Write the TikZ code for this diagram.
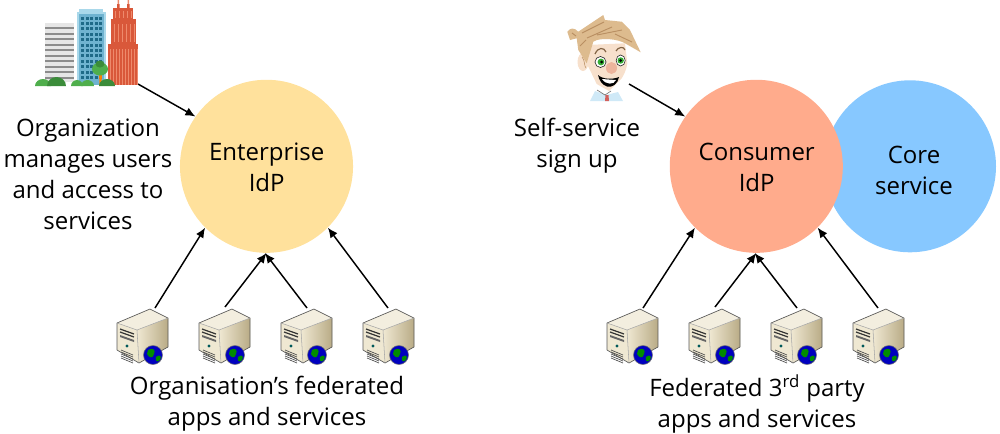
\documentclass[tikz,border=0pt]{standalone}
\usepackage{fontspec}
\setmainfont{Open Sans}
\usetikzlibrary{arrows.meta,shadings}
\definecolor{entc}{HTML}{FFE19C}
\definecolor{conc}{HTML}{FFAB8C}
\definecolor{corec}{HTML}{87C8FF}
\definecolor{srvL}{HTML}{EFE8D2}
\definecolor{srvR}{HTML}{B9AB86}
\definecolor{srvT}{HTML}{F3EEDF}
\definecolor{bgrey}{HTML}{E6E6E6}
\definecolor{bgreyd}{HTML}{8C8C8C}
\definecolor{bblueL}{HTML}{A9D8EA}
\definecolor{bblue}{HTML}{6FB3D0}
\definecolor{bblued}{HTML}{1F6A88}
\definecolor{bred}{HTML}{D9583A}
\definecolor{bredL}{HTML}{EE8A6C}
\definecolor{bgreen}{HTML}{4FAE4C}
\definecolor{bgreend}{HTML}{3B8C3A}
\definecolor{hairc}{HTML}{DDBB8E}
\definecolor{haird}{HTML}{B98F62}
\definecolor{skin}{HTML}{F7E0CC}
\definecolor{nosec}{HTML}{EDB49C}
\definecolor{shirt}{HTML}{CFE9F7}
\definecolor{tiec}{HTML}{D2605C}
\tikzset{
  x=0.75pt,y=-0.75pt,
  idp/.style={circle,minimum size=129.8pt,inner sep=0pt,align=center},
  lbl/.style={align=center,font=\fontsize{18}{23.25}\selectfont,text=black,inner sep=0pt},
  arr/.style={-{Latex[length=7.5pt,width=6.5pt]},line width=1.1pt,black},
  pics/server/.style={code={
    \fill[srvL] (-25,-12) -- (8,-26) -- (26,-17) -- (26,12) -- (-3,28) -- (-25,15) -- cycle;
    \shade[left color=srvL,right color=srvR] (-5,-5) -- (26,-17) -- (26,12) -- (-3,28) -- cycle;
    \fill[srvT] (-25,-12) -- (8,-26) -- (26,-17) -- (-5,-5) -- cycle;
    \draw[black!65,line width=.5pt,line join=round] (-25,-12) -- (8,-26) -- (26,-17) -- (26,12) -- (-3,28) -- (-25,15) -- cycle;
    \draw[black!35,line width=.4pt] (-25,-12) -- (-5,-5) -- (26,-17) (-5,-5) -- (-3,28);
    \draw[black!80,line width=.9pt] (-22,-6) -- (-8,-1) (-22,-3) -- (-8,2);
    \fill[black!60] (-22,0) -- (-8,5) -- (-8,7) -- (-22,2) -- cycle;
    \fill[teal!70!black] (-15,11) circle (1.6);
    \foreach \k in {0,2,4,6,8} \draw[black!70,line width=.5pt] (-21,15+\k) -- (-9,20+\k);
    \fill[blue!75!black] (11,20) circle (9.5);
    \fill[green!55!black] (6,15) .. controls (11,12) and (14,15) .. (12,19) .. controls (11,24) and (7,23) .. (5,19) -- cycle;
    \fill[green!55!black] (14,22) .. controls (18,19) and (20,21) .. (18,25) .. controls (15,28) and (13,26) .. (14,22) -- cycle;
    \draw[black!55,line width=.4pt] (11,20) circle (9.5);
  }}
}
\begin{document}
\begin{tikzpicture}
\useasboundingbox (0,0) rectangle (1000,433);
% circles
\node[idp,fill=corec,minimum size=129pt] (core) at (910,166.3) {};
\node[idp,fill=conc] (con) at (756.3,166.3) {};
\node[idp,fill=entc] (ent) at (266.5,166.3) {};
% circle labels
\node[lbl] (entl) at (266.7,167) {Enterprise\\IdP};
\node[lbl] (conl) at (756.7,167) {Consumer\\IdP};
\node[lbl] (corel) at (914,170.5) {Core\\service};
\node[lbl] (orgl) at (88,174.5) {Organization\\manages users\\and access to\\services};
\node[lbl] (ssl) at (577,146) {Self-service\\sign up};
\node[lbl] (fedl) at (267,404) {Organisation’s federated\\apps and services};
\node[lbl] (fed2) at (757,404) {Federated 3\textsuperscript{rd} party\\apps and services};
% servers
\foreach \n/\x in {a/142,b/224,c/306,d/388,e/632,f/714,g/796,h/878}
  \pic (srv\n) at (\x,335) {server};
% connector starts
\coordinate (sa) at (155,308);
\coordinate (sb) at (225,307);
\coordinate (sc) at (307,308);
\coordinate (sd) at (388,308);
\coordinate (se) at (643,308);
\coordinate (sf) at (715,307);
\coordinate (sg) at (797,308);
\coordinate (sh) at (878,308);
\coordinate (bld) at (138,84);
\coordinate (face) at (629,84);
\draw[arr] (sa) -- (ent.225);
\draw[arr] (sb) -- (ent.270.5);
\draw[arr] (sc) -- (ent.269);
\draw[arr] (sd) -- (ent.315);
\draw[arr] (se) -- (con.225);
\draw[arr] (sf) -- (con.270.5);
\draw[arr] (sg) -- (con.269);
\draw[arr] (sh) -- (con.315);
\draw[arr] (bld) -- (ent.145.4);
\draw[arr] (face) -- (con.145.4);
% buildings
\fill[bgrey] (45,23) rectangle (74,82);
\foreach \y in {27,32.5,38,43.5,49,54.5,60,65.5,71,76.5} \fill[bgreyd] (45,\y) rectangle (74,\y+2);
\fill[bblueL] (79,9) rectangle (103,14);
\fill[bblueL] (77,12) rectangle (106,85);
\fill[bblue] (79,14) rectangle (104,85);
\foreach \i in {0,...,4} \foreach \j in {0,...,11}
  \fill[bblued] (81+\i*4.6,16.5+\j*5.4) rectangle +(3,3);
\fill[bred] (108,44) rectangle (138,85);
\fill[bred] (111,19) rectangle (136,44);
\fill[bred] (113,8) rectangle (133,19);
\fill[bred] (117,4) rectangle (119.5,8) (127,4) rectangle (129.5,8);
\fill[bredL] (117.5,0) rectangle (119,4) (127.5,0) rectangle (129,4);
\foreach \x in {110,113,...,137} \draw[bredL,line width=.5pt] (\x,49) -- (\x,85);
\foreach \x in {114,118,...,134} \draw[bredL,line width=.5pt] (\x,24) -- (\x,42);
\foreach \x in {115,119,...,131} \draw[bredL,line width=.5pt] (\x,11) -- (\x,18);
\fill[orange] (99,72) -- (102,72) -- (101.5,85) -- (99.5,85) -- cycle;
\fill[bgreen] (100,69) ellipse (8 and 6.5);
\fill[bgreend] (100,64) ellipse (4.5 and 3.5);
\fill[bgreen] (35,86) arc[start angle=180,end angle=360,x radius=8,y radius=7] -- cycle;
\fill[bgreend] (47,86) arc[start angle=180,end angle=360,x radius=9.5,y radius=9] -- cycle;
\fill[bgreen] (71,86) arc[start angle=180,end angle=360,x radius=6,y radius=6] -- cycle;
\fill[bgreen] (81,86) arc[start angle=180,end angle=360,x radius=6.5,y radius=6] -- cycle;
\fill[bgreend] (99,86) arc[start angle=180,end angle=360,x radius=8,y radius=7] -- cycle;
% face
\fill[shirt] (590,101) -- (595,91) -- (606,95) -- (618,92) -- (623,101) -- cycle;
\fill[tiec] (605.5,95) -- (608.5,95) -- (609,101) -- (605,101) -- cycle;
\draw[black!55,line width=.5pt] (597,90) -- (605,95) -- (611,91);
\fill[skin] (583,62) ellipse (5.5 and 9);
\draw[haird,line width=.4pt] (582,57) .. controls (585,60) and (584,66) .. (586,68);
\fill[skin] (586.7,45) -- (625,43.3) -- (627.3,63.3) .. controls (626,72) and (623,76) .. (621.7,78.3) -- (609,91) -- (596.7,84) -- (586.7,63.3) -- cycle;
\fill[hairc] (567.3,31.7) .. controls (570,28) and (574,27) .. (578.3,31.7) -- (603.3,15) -- (605,20) -- (621.7,21.7) -- (630,30) -- (640.7,52.3) -- (625,43.3) .. controls (618,39) and (600,37) .. (593.3,41.7) -- (586.7,63.3) -- (578.3,50) -- (576.7,38.3) -- (570,40) -- cycle;
\draw[haird,line width=.7pt] (582,33) -- (604,22) (587,38) -- (612,27) (597,35) -- (622,30) (615,34) -- (632,42) (572,33) -- (576,36) (580,46) -- (586,40);
\draw[haird!70!black,line width=.9pt] (595,54) .. controls (598,47) and (604,47) .. (606,52) (616,51) .. controls (618,47) and (624,46) .. (625,50);
\fill[white,draw=black!80,line width=.5pt] (600.5,62) ellipse (5.5 and 5.5);
\fill[white,draw=black!80,line width=.5pt] (620.7,60.5) ellipse (4.5 and 5.5);
\fill[green!60!black!80] (601,62) circle (3.4);
\fill[green!60!black!80] (620.7,60.5) circle (3.2);
\fill[black] (601.5,62) circle (1.5) (620.7,60.5) circle (1.5);
\fill[nosec] (611.5,68) ellipse (5.5 and 6);
\fill[black] (598,75) .. controls (602,79) and (612,80) .. (619,77) .. controls (618,84) and (612,88) .. (607,86.5) .. controls (602,85) and (599,80) .. (598,75) -- cycle;
\fill[white] (602,79) -- (616,80) .. controls (614,85) and (606,85) .. (602,79) -- cycle;
\end{tikzpicture}
\end{document}
